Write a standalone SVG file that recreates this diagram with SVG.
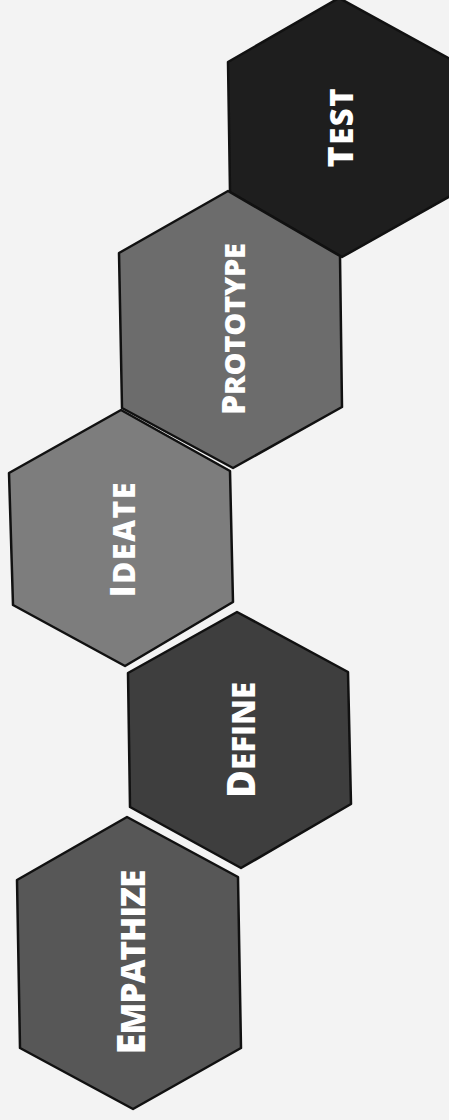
<svg xmlns="http://www.w3.org/2000/svg" width="449" height="1120" viewBox="0 0 449 1120">
<style>
.hex{stroke:#111;stroke-width:2.5;stroke-linejoin:round}
.lbl{font-family:"Open Sans","Liberation Sans",sans-serif;font-weight:800;fill:#fff;text-anchor:middle}
</style>
<rect width="449" height="1120" fill="#f3f3f3"/>
<g id="connectors"></g>
<g id="test">
<polygon class="hex" fill="#1e1e1e" points="339,-2 452,60 452,195 342,257 230,192 228,62"/>
<text class="lbl" transform="translate(353,128) rotate(-90)" textLength="79" lengthAdjust="spacing"><tspan font-size="36">T</tspan><tspan font-size="31">EST</tspan></text>
</g>
<g id="prototype">
<polygon class="hex" fill="#6c6c6c" points="228,191 340,256 342,407 233,468 122,408 119,253"/>
<text class="lbl" transform="translate(245,329) rotate(-90)" textLength="172" lengthAdjust="spacing"><tspan font-size="32">P</tspan><tspan font-size="29">ROTOTYPE</tspan></text>
</g>
<g id="ideate">
<polygon class="hex" fill="#7d7d7d" points="121,410 230,471 233,602 125,666 13,605 9,473"/>
<text class="lbl" transform="translate(135,540) rotate(-90)" textLength="115" lengthAdjust="spacing"><tspan font-size="35">I</tspan><tspan font-size="30">DEATE</tspan></text>
</g>
<g id="define">
<polygon class="hex" fill="#3e3e3e" points="237,612 348,672 351,804 241,868 130,807 128,673"/>
<text class="lbl" transform="translate(255,740) rotate(-90)" textLength="116" lengthAdjust="spacing"><tspan font-size="38">D</tspan><tspan font-size="31">EFINE</tspan></text>
</g>
<g id="empathize">
<polygon class="hex" fill="#575757" points="127,817 238,877 241,1048 133,1109 20,1048 17,880"/>
<text class="lbl" transform="translate(145,962) rotate(-90)" textLength="185" lengthAdjust="spacing"><tspan font-size="38">E</tspan><tspan font-size="33">MPATHIZE</tspan></text>
</g>
</svg>
